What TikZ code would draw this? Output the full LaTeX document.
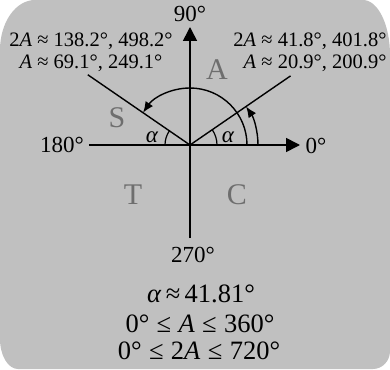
\documentclass[tikz,border=0pt]{standalone}
\usepackage{fontspec}
\setmainfont{Liberation Serif}
\usetikzlibrary{arrows.meta}
\definecolor{bggray}{RGB}{192,192,192}
\definecolor{quadgray}{RGB}{110,110,110}
\begin{document}
\begin{tikzpicture}[x=1pt,y=1pt,
  axis/.style={line width=1.6pt,-{Triangle[length=14pt,width=14pt]}},
  ray/.style={line width=1.4pt},
  arcarrow/.style={line width=1.4pt,-{Latex[length=11pt,width=9pt]}},
  anglearc/.style={line width=1.2pt},
  axlabel/.style={font=\fontsize{23}{25}\selectfont},
  anglabel/.style={font=\fontsize{20.5}{22}\selectfont},
  alab/.style={font=\fontsize{23}{25}\selectfont},
  quad/.style={font=\fontsize{30}{32}\selectfont,text=quadgray},
  result/.style={font=\fontsize{26.5}{28}\selectfont,inner sep=1pt}]
\useasboundingbox (-190,-224) rectangle (200,145);
\fill[bggray] (-190,95) arc[start angle=180,end angle=90,x radius=35,y radius=50]
  -- (173,145) arc[start angle=90,end angle=0,x radius=27,y radius=55]
  -- (200,-206) arc[start angle=0,end angle=-90,x radius=17,y radius=18]
  -- (-172,-224) arc[start angle=270,end angle=180,x radius=18,y radius=30] -- cycle;
\coordinate (O) at (0,0);
\coordinate (xl) at (-101,0);
\coordinate (xr) at (110,0);
\coordinate (yb) at (0,-93);
\coordinate (yt) at (0,118);
\coordinate (rr) at (34.5:122);
\coordinate (rl) at (145.5:124);
\draw[line width=1.6pt] (xl) -- (O);
\draw[axis] (O) -- (xr);
\draw[line width=1.6pt] (yb) -- (O);
\draw[axis] (O) -- (yt);
\draw[ray] (O) -- (rr);
\draw[ray] (O) -- (rl);
\draw[anglearc] (27,0) arc[start angle=0,end angle=34.5,radius=27];
\draw[anglearc] (145.5:25) arc[start angle=145.5,end angle=180,radius=25];
\draw[arcarrow] (57,0) arc[start angle=0,end angle=145.5,radius=57];
\draw[arcarrow] (68,0) arc[start angle=0,end angle=34.5,radius=68];
\node[axlabel] (n90) at (0,131) {90°};
\node[axlabel] (n180) at (-128,0) {180°};
\node[axlabel] (n0) at (126,-1) {0°};
\node[axlabel] (n270) at (3,-110) {270°};
\node[anglabel,align=center] (lt) at (-99,93) {2\textit{A} ≈ 138.2°, 498.2°\\\textit{A} ≈ 69.1°, 249.1°};
\node[anglabel,align=right,anchor=east] (rt) at (200,93) {2\textit{A} ≈ 41.8°, 401.8°\\\textit{A} ≈ 20.9°, 200.9°};
\node[alab] (ar) at (38,8) {\textit{α}};
\node[alab] (al) at (-38,8) {\textit{α}};
\node[quad] (qA) at (27,75) {A};
\node[quad] (qS) at (-73,27) {S};
\node[quad] (qT) at (-57,-50) {T};
\node[quad] (qC) at (47,-50) {C};
\node[result] (r1) at (11,-149) {\textit{α}\,≈\,41.81°};
\node[result] (r2) at (10,-179) {0°\;≤\;\textit{A}\;≤\;360°};
\node[result] (r3) at (9,-206) {0°\;≤\;2\textit{A}\;≤\;720°};
\end{tikzpicture}
\end{document}
